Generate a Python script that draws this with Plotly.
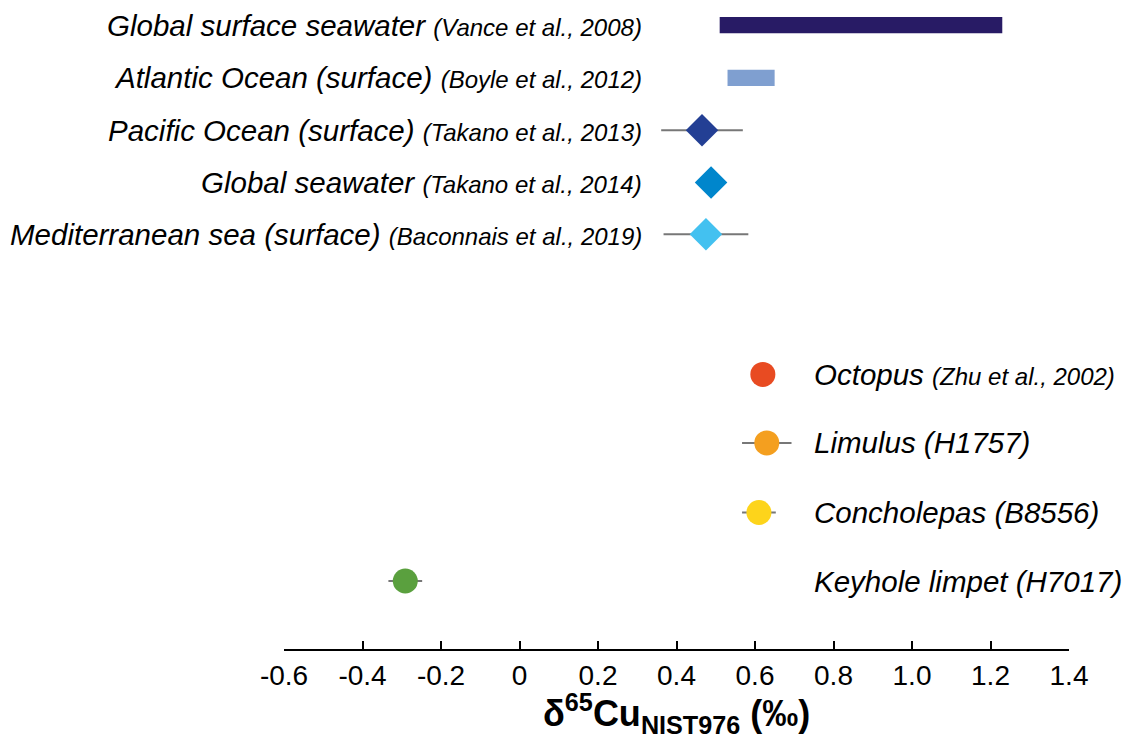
import plotly.graph_objects as go

# ---- data ----
ranges_labels = ["Global surface seawater", "Atlantic Ocean (surface)"]
ranges_cites = ["(Vance et al., 2008)", "(Boyle et al., 2012)"]
ranges_low = [0.51, 0.53]
ranges_high = [1.23, 0.65]
ranges_colors = ["#281b65", "#7f9fd0"]

sea_labels = ["Pacific Ocean (surface)", "Global seawater", "Mediterranean sea (surface)"]
sea_cites = ["(Takano et al., 2013)", "(Takano et al., 2014)", "(Baconnais et al., 2019)"]
sea_values = [0.465, 0.488, 0.475]
sea_errors = [0.104, 0.0, 0.108]
sea_colors = ["#233f94", "#0086cc", "#43c1f0"]

bio_labels = ["Octopus", "Limulus (H1757)", "Concholepas (B8556)", "Keyhole limpet (H7017)"]
bio_cites = ["(Zhu et al., 2002)", "", "", ""]
bio_values = [0.620, 0.630, 0.610, -0.291]
bio_errors = [0.0, 0.063, 0.043, 0.043]
bio_colors = ["#e84b22", "#f49f1f", "#fdd41b", "#5aa03e"]

tick_vals = [-0.6, -0.4, -0.2, 0, 0.2, 0.4, 0.6, 0.8, 1.0, 1.2, 1.4]
tick_text = ["-0.6", "-0.4", "-0.2", "0", "0.2", "0.4", "0.6", "0.8", "1.0", "1.2", "1.4"]
axis_title = "<b>δ<sup>65</sup>Cu<sub>NIST976</sub> (‰)</b>"

# ---- layout positions (rows, top to bottom) ----
range_rows = [0, 1.01]
sea_rows = [2.01, 3.01, 4.0]
bio_rows = [6.68, 7.99, 9.32, 10.63]
left_label_x = 0.317
right_label_x = 0.744

FONT = "Liberation Sans, Arial, Helvetica, sans-serif"
MAIN = 29.5
CITE = 24

fig = go.Figure()

for lo, hi, row, col in zip(ranges_low, ranges_high, range_rows, ranges_colors):
    fig.add_trace(go.Bar(
        x=[hi - lo], base=[lo], y=[row], orientation="h", width=0.31,
        marker=dict(color=col, line=dict(width=0)), showlegend=False,
    ))

for v, e, row, col in zip(sea_values, sea_errors, sea_rows, sea_colors):
    fig.add_trace(go.Scatter(
        x=[v], y=[row], mode="markers",
        marker=dict(symbol="diamond", size=25, color=col, line=dict(width=0)),
        error_x=dict(type="data", array=[e], visible=e > 0, color="#777777", thickness=2, width=0),
        showlegend=False,
    ))

for v, e, row, col in zip(bio_values, bio_errors, bio_rows, bio_colors):
    fig.add_trace(go.Scatter(
        x=[v], y=[row], mode="markers",
        marker=dict(symbol="circle", size=25, color=col, line=dict(width=0)),
        error_x=dict(type="data", array=[e], visible=e > 0, color="#777777", thickness=2, width=0),
        showlegend=False,
    ))


def label(main, cite):
    t = "<i>" + main + "</i>"
    if cite:
        t += " <span style='font-size:%dpx'><i>%s</i></span>" % (CITE, cite)
    return t


for main, cite, row in zip(ranges_labels + sea_labels, ranges_cites + sea_cites, range_rows + sea_rows):
    fig.add_annotation(x=left_label_x, y=row, xref="x", yref="y", text=label(main, cite),
                       showarrow=False, xanchor="right", yanchor="middle",
                       font=dict(family=FONT, size=MAIN, color="black"))

for main, cite, row in zip(bio_labels, bio_cites, bio_rows):
    fig.add_annotation(x=right_label_x, y=row, xref="x", yref="y", text=label(main, cite),
                       showarrow=False, xanchor="left", yanchor="middle",
                       font=dict(family=FONT, size=MAIN, color="black"))

# x-axis title
fig.add_annotation(x=0.5, y=-0.1, xref="paper", yref="paper", text=axis_title,
                   showarrow=False, xanchor="center", yanchor="middle",
                   font=dict(family=FONT, size=36, color="black"))

fig.update_layout(
    width=1131, height=751,
    margin=dict(l=284, r=62, t=0, b=102),
    plot_bgcolor="white", paper_bgcolor="white",
    font=dict(family=FONT, color="black"),
    barmode="overlay",
    xaxis=dict(
        range=[-0.6, 1.4], tickvals=tick_vals, ticktext=tick_text,
        showgrid=False, zeroline=False, showline=True, linecolor="black", linewidth=2,
        ticks="inside", ticklen=8, tickwidth=2, tickcolor="black",
        tickfont=dict(family=FONT, size=28, color="black"),
    ),
    yaxis=dict(range=[11.93, -0.48], visible=False, showgrid=False, zeroline=False),
)

fig.write_html("out.html", config={"displayModeBar": False},
               post_script="document.body.style.margin='0';")
